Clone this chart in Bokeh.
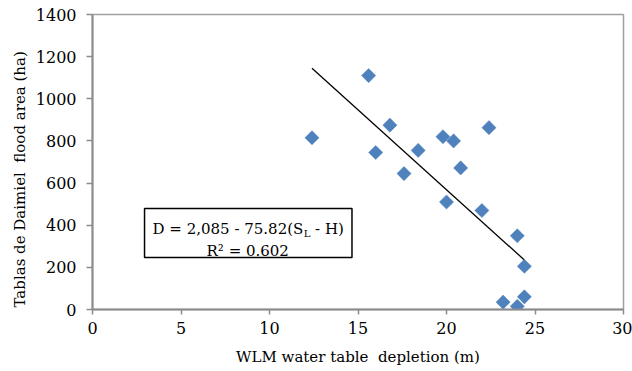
import numpy as np
from bokeh.plotting import figure
from bokeh.models import Range1d, FixedTicker, Title
from bokeh.embed import file_html
from bokeh.resources import INLINE
from bokeh.core.properties import value

# ---- data ----
depletion_m = [12.4, 15.6, 16.8, 16.0, 17.6, 18.4, 19.8, 20.4, 20.8, 20.0,
               22.4, 22.0, 24.0, 24.4, 23.2, 24.0, 24.4]
flood_area_ha = [815, 1110, 875, 745, 645, 755, 820, 800, 672, 510,
                 863, 470, 350, 205, 35, 15, 60]
fit_intercept = 2085.0
fit_slope = -75.82
x_ticks = [0, 5, 10, 15, 20, 25, 30]
y_ticks = [0, 200, 400, 600, 800, 1000, 1200, 1400]
NB = "\u00a0"
eq_line = "D = 2,085 - 75.82(S"
eq_sub = "L"
eq_tail = NB + "-" + NB + "H)"
r2_line = "R\u00b2 = 0.602"
x_title = "WLM water table" + NB + NB + "depletion (m)"
y_title = "Tablas de Daimiel" + NB + NB + "flood area (ha)"

FONT = "DejaVu Serif"
MARK = "#4F81BD"
AX_GREY = "#8C8C8C"

p = figure(width=632, height=371, output_backend="svg", toolbar_location=None,
           x_range=Range1d(0, 30), y_range=Range1d(0, 1400),
           min_border_left=92, min_border_right=9, min_border_top=14,
           min_border_bottom=62)

# tick labels (set per axis)
p.yaxis.major_label_text_color = "black"
p.yaxis.major_label_text_font = FONT
p.yaxis.major_label_text_font_size = "16px"
p.xaxis.major_label_text_color = "black"
p.xaxis.major_label_text_font = FONT
p.xaxis.major_label_text_font_size = "16px"

p.xaxis.ticker = FixedTicker(ticks=x_ticks)
p.yaxis.ticker = FixedTicker(ticks=y_ticks)
p.xaxis.axis_line_color = AX_GREY
p.yaxis.axis_line_color = AX_GREY
p.xaxis.axis_line_width = 2
p.yaxis.axis_line_width = 2
p.xaxis.major_tick_line_color = AX_GREY
p.yaxis.major_tick_line_color = AX_GREY
p.xaxis.major_tick_line_width = 1.5
p.yaxis.major_tick_line_width = 1.5
p.xaxis.major_tick_in = 0
p.yaxis.major_tick_in = 0
p.xaxis.minor_tick_line_color = None
p.yaxis.minor_tick_line_color = None
p.xaxis.major_tick_out = 5
p.yaxis.major_tick_out = 6
p.xaxis.major_label_standoff = 7
p.yaxis.major_label_standoff = 10

p.xaxis.axis_label = x_title
p.xaxis.axis_label_text_font = FONT
p.xaxis.axis_label_text_font_size = "15px"
p.xaxis.axis_label_text_font_style = "normal"
p.xaxis.axis_label_text_color = "black"
p.xaxis.axis_label_standoff = 11

p.outline_line_color = "#A0A0A0"
p.outline_line_width = 1.5
p.grid.visible = False

# y title, placed slightly below centre as in the reference
p.add_layout(Title(text=y_title, align="left", offset=2, standoff=8,
                   text_font=FONT, text_font_size="15px",
                   text_font_style="normal", text_color="black"), "left")

# trend line from the fitted equation over the data's x span
xs_fit = np.array([min(depletion_m), max(depletion_m)])
ys_fit = fit_intercept + fit_slope * xs_fit
p.line(xs_fit, ys_fit, line_color="black", line_width=1.3)

# points
p.scatter(depletion_m, flood_area_ha, marker="square", size=10, angle=np.pi / 4,
          fill_color=MARK, line_color=MARK, line_width=0.5)

# equation box
p.quad(left=[2.94], right=[14.66], bottom=[247], top=[479],
       fill_color="white", line_color="black", line_width=1.5)
anchor_x = 11.91
p.text(x=[anchor_x], y=[381], text=[eq_line], text_align="right",
       text_baseline="alphabetic", text_font=value(FONT),
       text_font_size=value("15px"), text_color="black")
p.text(x=[anchor_x], y=[381], text=[eq_sub], text_align="left",
       text_baseline="alphabetic", text_font=value(FONT),
       text_font_size=value("10px"), text_color="black", y_offset=4, x_offset=0.5)
p.text(x=[anchor_x], y=[381], text=[eq_tail], text_align="left",
       text_baseline="alphabetic", text_font=value(FONT),
       text_font_size=value("15px"), text_color="black", x_offset=7)
p.text(x=[8.77], y=[280], text=[r2_line], text_align="center",
       text_baseline="alphabetic", text_font=value(FONT),
       text_font_size=value("15px"), text_color="black")

open("out.html", "w").write(file_html(p, INLINE))
